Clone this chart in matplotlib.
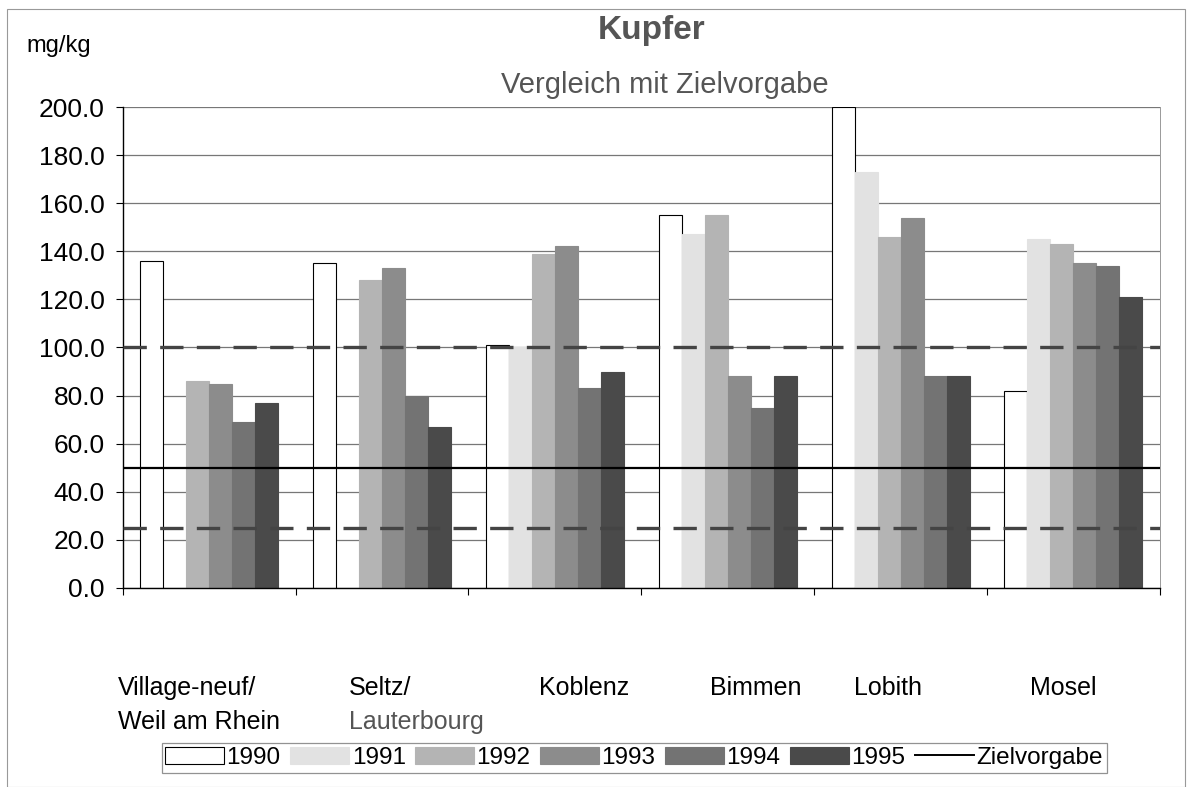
import numpy as np
import matplotlib
matplotlib.use("Agg")
import matplotlib.pyplot as plt
from matplotlib.patches import Patch, Rectangle
from matplotlib.lines import Line2D

plt.rcParams['font.family'] = ['Liberation Sans', 'DejaVu Sans']

stations_l1 = ["Village-neuf/", "Seltz/", "Koblenz", "Bimmen", "Lobith", "Mosel"]
stations_l2 = ["Weil am Rhein", "Lauterbourg", "", "", "", ""]
years = ["1990", "1991", "1992", "1993", "1994", "1995"]

nan = np.nan
v1990 = [136, 135, 101, 155, 200, 82]
v1991 = [nan, nan, 100, 147, 173, 145]
v1992 = [86, 128, 139, 155, 146, 143]
v1993 = [85, 133, 142, 88, 154, 135]
v1994 = [69, 80, 83, 75, 88, 134]
v1995 = [77, 67, 90, 88, 88, 121]
series = [v1990, v1991, v1992, v1993, v1994, v1995]

zielvorgabe = 50
band_upper = 100
band_lower = 25

colors = ["white", "#e2e2e2", "#b4b4b4", "#8c8c8c", "#737373", "#4a4a4a"]
edges = ["black", "#e2e2e2", "#b4b4b4", "#8c8c8c", "#737373", "#4a4a4a"]
label_dx = [-0.53, -0.19, -0.09, -0.10, -0.27, -0.25]

fig = plt.figure(figsize=(11.92, 7.87), dpi=100)
ax = fig.add_axes([0.103, 0.253, 0.870, 0.611])

x = np.arange(len(stations_l1))
w = 0.133
for i, vals in enumerate(series):
    ax.bar(x + (i - 2.5) * w, vals, w, color=colors[i], edgecolor=edges[i],
           linewidth=0.8, zorder=2, label=years[i])

ax.set_ylim(0, 200)
ax.set_xlim(-0.5, 5.5)
ax.set_yticks(np.arange(0, 201, 20))
ax.set_yticklabels([f"{t:.1f}" for t in np.arange(0, 201, 20)], fontsize=19)
ax.yaxis.grid(True, color="#777777", linewidth=0.9, zorder=0)
ax.set_axisbelow(True)
ax.tick_params(axis="y", length=5, pad=8, width=0.8)
ax.set_xticks(np.arange(-0.5, 5.6, 1.0))
ax.set_xticklabels([])
ax.tick_params(axis="x", length=5, width=0.8, direction="out")

ax.axhline(band_upper, color="#444444", lw=2.4, dashes=(7, 4), zorder=3)
ax.axhline(zielvorgabe, color="black", lw=1.6, zorder=3)
ax.axhline(band_lower, color="#444444", lw=2.4, dashes=(7, 4), zorder=3)

ax.spines["top"].set_visible(False)
ax.spines["right"].set_color("#999999")
ax.spines["right"].set_linewidth(0.7)
ax.spines["left"].set_linewidth(1.0)
ax.spines["bottom"].set_linewidth(1.0)

trans = ax.get_xaxis_transform()
for i in range(len(stations_l1)):
    ax.text(x[i] + label_dx[i], -0.208, stations_l1[i], transform=trans,
            ha="left", va="center", fontsize=18, color="black")
    if stations_l2[i]:
        col = "#555555" if i == 1 else "black"
        ax.text(x[i] + label_dx[i], -0.279, stations_l2[i], transform=trans,
                ha="left", va="center", fontsize=18, color=col)

fig.text(0.547, 0.961, "Kupfer", ha="center", va="center", fontsize=24,
         fontweight="bold", color="#555555")
fig.text(0.558, 0.892, "Vergleich mit Zielvorgabe", ha="center", va="center",
         fontsize=21, color="#555555")
fig.text(0.022, 0.942, "mg/kg", ha="left", va="center", fontsize=17)

handles = [Patch(facecolor=colors[i], edgecolor="black" if i == 0 else colors[i],
                 linewidth=0.8) for i in range(6)]
handles.append(Line2D([0], [0], color="black", lw=1.4))
labels = years + ["Zielvorgabe"]
leg = fig.legend(handles, labels, ncol=7, loc="center", bbox_to_anchor=(0.532, 0.037),
                 fontsize=17.5, frameon=True, fancybox=False, handlelength=2.4,
                 handletextpad=0.12, columnspacing=0.4, borderpad=0.15,
                 handleheight=0.7)
leg.get_frame().set_edgecolor("#777777")
leg.get_frame().set_linewidth(0.9)

fig.patches.append(Rectangle((0.006, 0.0), 0.988, 0.988, transform=fig.transFigure,
                             fill=False, edgecolor="#999999", linewidth=0.8))

fig.savefig("out.png", dpi=100)
